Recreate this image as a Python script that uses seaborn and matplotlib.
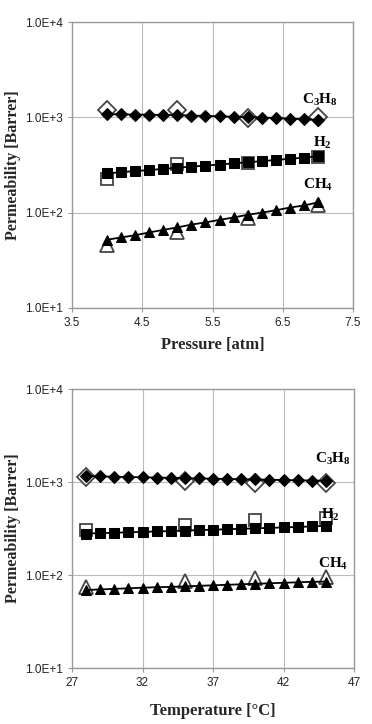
import numpy as np
import pandas as pd
import matplotlib
matplotlib.use("Agg")
import matplotlib.pyplot as plt
import seaborn as sns

# ---- data: pressure panel ----
p_fit = [4.0, 4.2, 4.4, 4.6, 4.8, 5.0, 5.2, 5.4, 5.6, 5.8, 6.0, 6.2, 6.4, 6.6, 6.8, 7.0]
p_c3h8_fit = [1080, 1075, 1070, 1065, 1060, 1055, 1045, 1035, 1025, 1015, 1005, 995, 985, 970, 955, 940]
p_h2_fit = [258, 266, 273, 280, 288, 296, 304, 312, 320, 329, 338, 347, 357, 367, 378, 392]
p_ch4_fit = [52, 55, 58, 62, 66, 70, 75, 79, 84, 89, 95, 100, 106, 113, 119, 128]
p_exp = [4.0, 5.0, 6.0, 7.0]
p_c3h8_exp = [1195, 1195, 980, 1015]
p_h2_exp = [223, 324, 329, 386]
p_ch4_exp = [46, 63, 87, 120]

# ---- data: temperature panel ----
t_fit = [28, 29, 30, 31, 32, 33, 34, 35, 36, 37, 38, 39, 40, 41, 42, 43, 44, 45]
t_c3h8_fit = [1160, 1150, 1140, 1132, 1124, 1116, 1108, 1100, 1093, 1086, 1079, 1072, 1065, 1058, 1051, 1044, 1037, 1030]
t_h2_fit = [279, 282, 285, 288, 291, 294, 297, 301, 304, 307, 311, 314, 318, 321, 325, 329, 333, 338]
t_ch4_fit = [69, 70, 71, 72, 73, 74, 74.5, 75.5, 76.5, 77.5, 78.5, 79.5, 80.5, 81.5, 82.5, 83.5, 84.5, 85]
t_exp = [28, 35, 40, 45]
t_c3h8_exp = [1130, 1025, 985, 975]
t_h2_exp = [303, 343, 395, 415]
t_ch4_exp = [75, 86, 92, 96]

gases = ["C$_3$H$_8$", "H$_2$", "CH$_4$"]
markers = ["D", "s", "^"]

sns.set_style("white")
plt.rcParams['font.family'] = ['Liberation Sans', 'DejaVu Sans']
plt.rcParams['mathtext.fontset'] = 'custom'
plt.rcParams['mathtext.rm'] = 'Liberation Serif:bold'
plt.rcParams['mathtext.it'] = 'Liberation Serif:bold'
plt.rcParams['mathtext.bf'] = 'Liberation Serif:bold'
plt.rcParams['mathtext.default'] = 'rm'

fig = plt.figure(figsize=(3.72, 7.24), dpi=100)
ax1 = fig.add_axes([0.1935, 0.5746, 0.7555, 0.395])
ax2 = fig.add_axes([0.1935, 0.0773, 0.7583, 0.3854])

def draw(ax, xf, fits, xe, exps, xlim, xticks, xlabel, lab_pos, labpad):
    for i, (yf, ye) in enumerate(zip(fits, exps)):
        ms_open = {"D": 9, "s": 9, "^": 9.5}[markers[i]]
        ms_fill = {"D": 6, "s": 7, "^": 6.5}[markers[i]]
        de = pd.DataFrame({"x": xe, "y": ye})
        ax.plot(de["x"], de["y"], linestyle="none", marker=markers[i], ms=ms_open,
                mfc="white", mec="#444444", mew=1.3, zorder=2)
        df = pd.DataFrame({"x": xf, "y": yf})
        sns.lineplot(data=df, x="x", y="y", ax=ax, color="black", lw=1.3,
                     marker=markers[i], markersize=ms_fill, markeredgecolor="black",
                     markerfacecolor="black", zorder=3)
        ax.text(lab_pos[i][0], lab_pos[i][1], gases[i], ha="center", va="center",
                fontsize=11, color="black", family="Liberation Serif",
                fontweight="bold")
    ax.set_yscale("log")
    ax.set_ylim(10, 10000)
    ax.set_xlim(*xlim)
    ax.set_xticks(xticks)
    ax.set_yticks([10, 100, 1000, 10000])
    ax.set_yticklabels(["1.0E+1", "1.0E+2", "1.0E+3", "1.0E+4"])
    ax.yaxis.set_minor_locator(matplotlib.ticker.NullLocator())
    ax.grid(True, color="#bbbbbb", lw=0.8)
    for s in ax.spines.values():
        s.set_color("#999999")
        s.set_linewidth(1.0)
    ax.tick_params(axis="both", labelsize=8.5, colors="#999999", labelcolor="#222222",
                   length=3, direction="out", left=True, bottom=True)
    ax.set_xlabel(xlabel, fontsize=12, fontweight="bold", family="Liberation Serif",
                  labelpad=labpad)
    ax.set_ylabel("Permeability [Barrer]", fontsize=11.5, fontweight="bold",
                  family="Liberation Serif", labelpad=3)

draw(ax1, p_fit, [p_c3h8_fit, p_h2_fit, p_ch4_fit], p_exp,
     [p_c3h8_exp, p_h2_exp, p_ch4_exp], (3.5, 7.5), [3.5, 4.5, 5.5, 6.5, 7.5],
     "Pressure [atm]", [(7.03, 1510), (7.07, 540), (7.0, 195)], 6)
draw(ax2, t_fit, [t_c3h8_fit, t_h2_fit, t_ch4_fit], t_exp,
     [t_c3h8_exp, t_h2_exp, t_ch4_exp], (27, 47), [27, 32, 37, 42, 47],
     "Temperature [°C]", [(45.5, 1780), (45.3, 440), (45.5, 133)], 10)

fig.savefig("out.png", dpi=100)
